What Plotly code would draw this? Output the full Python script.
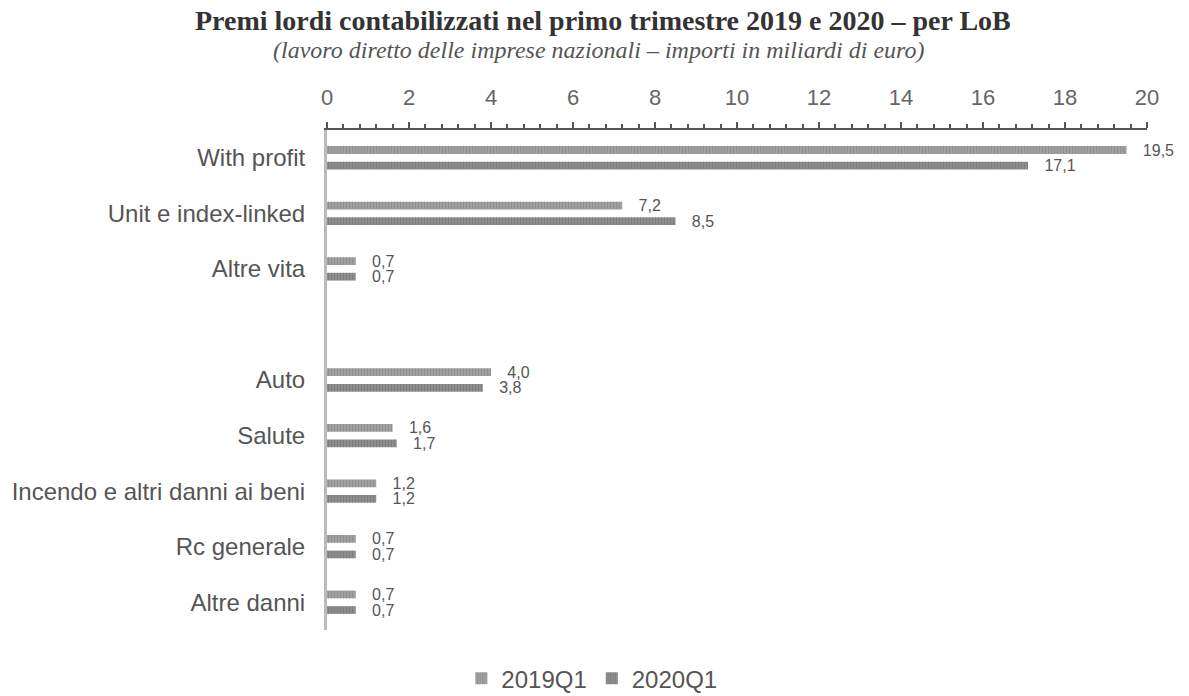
import plotly.graph_objects as go

# categories (blank entry = gap between life and non-life lines)
categories = ['With profit', 'Unit e index-linked', 'Altre vita', ' ',
              'Auto', 'Salute', 'Incendo e altri danni ai beni',
              'Rc generale', 'Altre danni']
premi_2019q1 = [19.5, 7.2, 0.7, None, 4.0, 1.6, 1.2, 0.7, 0.7]
premi_2020q1 = [17.1, 8.5, 0.7, None, 3.8, 1.7, 1.2, 0.7, 0.7]
x_ticks = list(range(0, 21, 2))

PAD = '\u00a0' * 3  # gap between bar end and its label

fig = go.Figure()
fig.add_trace(go.Bar(
    y=categories, x=premi_2019q1, orientation='h', name='2019Q1',
    marker=dict(color='#a3a3a3', line=dict(width=0),
                pattern=dict(shape='|', size=3, solidity=0.45, fgcolor='#7d7d7d')),
    texttemplate=PAD + '%{x:.1f}', textposition='outside', constraintext='none',
    textfont=dict(family='Liberation Sans', size=16, color='#555555'),
    cliponaxis=False,
))
fig.add_trace(go.Bar(
    y=categories, x=premi_2020q1, orientation='h', name='2020Q1',
    marker=dict(color='#8f8f8f', line=dict(width=0),
                pattern=dict(shape='|', size=3, solidity=0.45, fgcolor='#6e6e6e')),
    texttemplate=PAD + '%{x:.1f}', textposition='outside', constraintext='none',
    textfont=dict(family='Liberation Sans', size=16, color='#555555'),
    cliponaxis=False,
))

fig.update_layout(
    width=1189, height=696,
    paper_bgcolor='white', plot_bgcolor='white',
    margin=dict(l=327, r=42, t=130, b=66),
    separators=',.',
    barmode='group', bargap=0.44, bargroupgap=0.5,
    font=dict(family='Liberation Sans', color='#555555'),
    showlegend=True,
    legend=dict(orientation='h', x=0.323, xanchor='center',
                yref='container', y=0.025, yanchor='middle',
                font=dict(size=24, color='#555555'), itemwidth=30,
                traceorder='normal'),
    annotations=[
        dict(text='<b>Premi lordi contabilizzati nel primo trimestre 2019 e 2020 – per LoB</b>',
             xref='paper', yref='paper', x=0.336, y=1.0, yshift=110,
             xanchor='center', yanchor='middle', showarrow=False,
             font=dict(family='Liberation Serif', size=28, color='#333333')),
        dict(text='<i>(lavoro diretto delle imprese nazionali – importi in miliardi di euro)</i>',
             xref='paper', yref='paper', x=0.332, y=1.0, yshift=80,
             xanchor='center', yanchor='middle', showarrow=False,
             font=dict(family='Liberation Serif', size=24, color='#555555')),
    ],
)

fig.update_xaxes(
    side='top', range=[0, 20], tickvals=x_ticks,
    showgrid=False, zeroline=False,
    showline=True, linecolor='#555555', linewidth=1.5,
    ticks='outside', ticklen=6, tickcolor='#555555', tickwidth=1.5,
    minor=dict(dtick=0.4, tick0=0, ticks='outside', ticklen=4,
               tickcolor='#555555', tickwidth=1.5, showgrid=False),
    ticklabelstandoff=8,
    tickfont=dict(size=22, color='#666666'),
)
fig.update_yaxes(
    categoryorder='array', categoryarray=categories,
    autorange='reversed',
    showgrid=False, zeroline=False,
    showline=True, linecolor='#bbbbbb', linewidth=3,
    ticks='', ticklabelstandoff=14,
    tickfont=dict(size=24, color='#555555'),
)

# drop the default page margin so the figure sits at the window's corner
fig.write_html('out.html', config={'displayModeBar': False},
               post_script="document.body.style.margin='0';")
